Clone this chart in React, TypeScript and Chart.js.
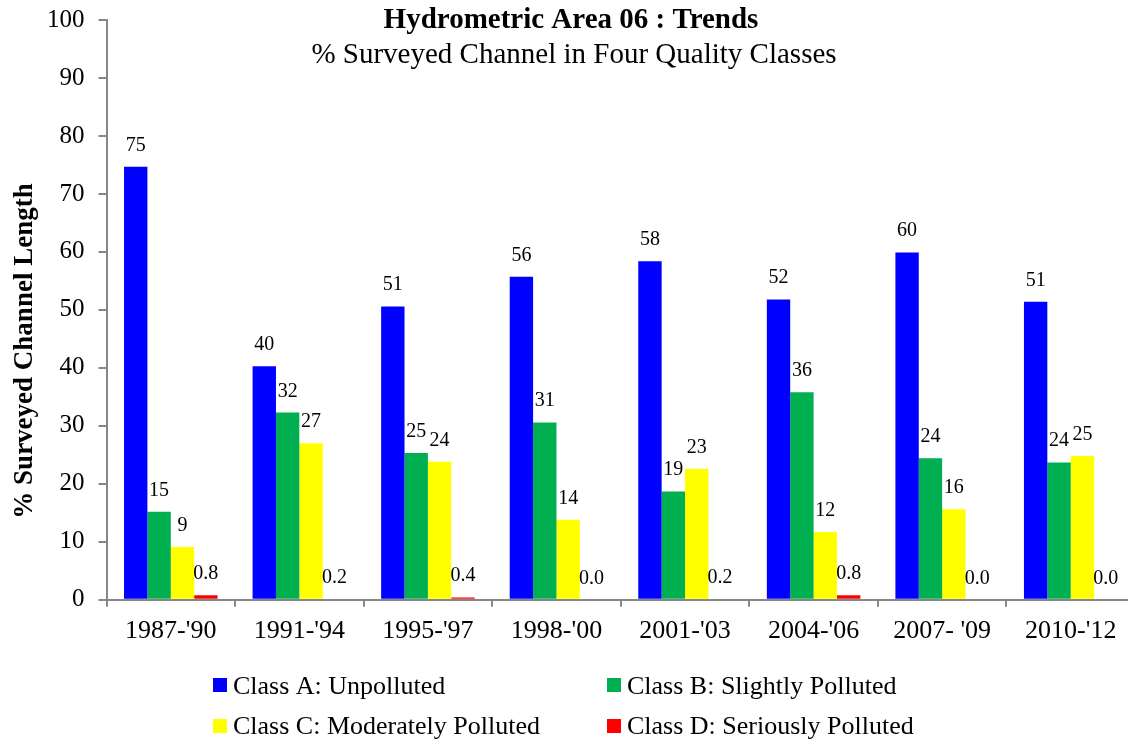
import React, { useEffect, useRef } from "react";
import { Chart, registerables } from "chart.js";

Chart.register(...registerables);

const FONT = "'Liberation Serif', 'Times New Roman', serif";

const periods = ["1987-'90", "1991-'94", "1995-'97", "1998-'00", "2001-'03", "2004-'06", "2007- '09", "2010-'12"];
const classA = [74.7, 40.3, 50.6, 55.7, 58.4, 51.8, 59.9, 51.4];
const classB = [15.2, 32.3, 25.3, 30.6, 18.7, 35.8, 24.4, 23.7];
const classC = [9.1, 27.0, 23.8, 13.8, 22.6, 11.7, 15.6, 24.8];
const classD = [0.8, 0.2, 0.4, 0.0, 0.2, 0.8, 0.0, 0.0];
const seriesNames = [
  "Class A: Unpolluted",
  "Class B: Slightly Polluted",
  "Class C: Moderately Polluted",
  "Class D: Seriously Polluted",
];
const seriesColors = ["#0000FF", "#00B050", "#FFFF00", "#FF0000"];
const titleText = "Hydrometric Area 06 : Trends";
const subtitleText = "% Surveyed Channel in Four Quality Classes";
const yAxisTitle = "% Surveyed Channel Length";
const yMin = 0;
const yMax = 100;
const yStep = 10;

const AXIS_GREY = "#878787";

const barLabels = {
  id: "barLabels",
  afterDatasetsDraw(chart: any) {
    const ctx = chart.ctx;
    ctx.save();
    ctx.font = `20px ${FONT}`;
    ctx.fillStyle = "#000";
    ctx.textAlign = "center";
    ctx.textBaseline = "alphabetic";
    chart.data.datasets.forEach((ds: any, di: number) => {
      const meta = chart.getDatasetMeta(di);
      meta.data.forEach((bar: any, i: number) => {
        const v = ds.data[i] as number;
        const txt = di === 3 ? v.toFixed(1) : String(Math.round(v));
        ctx.fillText(txt, bar.x, bar.y - 16);
      });
    });
    ctx.restore();
  },
};

const decorations = {
  id: "decorations",
  afterDraw(chart: any) {
    const ctx = chart.ctx;
    ctx.save();
    ctx.fillStyle = "#000";
    ctx.textAlign = "center";
    ctx.textBaseline = "alphabetic";
    ctx.font = `bold 29px ${FONT}`;
    ctx.fillText(titleText, 571, 28);
    ctx.font = `29px ${FONT}`;
    ctx.fillText(subtitleText, 574, 63);
    ctx.save();
    ctx.translate(32, 351);
    ctx.rotate(-Math.PI / 2);
    ctx.font = `bold 27px ${FONT}`;
    ctx.fillText(yAxisTitle, 0, 0);
    ctx.restore();
    const colX = [213, 607];
    const rowTop = [678, 719];
    const rowBase = [694, 734];
    ctx.font = `26px ${FONT}`;
    ctx.textAlign = "left";
    chart.data.datasets.forEach((ds: any, i: number) => {
      const c = i % 2;
      const r = Math.floor(i / 2);
      ctx.fillStyle = ds.backgroundColor;
      ctx.fillRect(colX[c], rowTop[r], 14, 14);
      ctx.fillStyle = "#000";
      ctx.fillText(ds.label, colX[c] + 20, rowBase[r]);
    });
    ctx.restore();
  },
};

export default function App() {
  const ref = useRef<HTMLCanvasElement | null>(null);

  useEffect(() => {
    if (!ref.current) return;
    const seriesData = [classA, classB, classC, classD];
    const chart = new Chart(ref.current, {
      type: "bar",
      data: {
        labels: periods,
        datasets: seriesData.map((d, i) => ({
          label: seriesNames[i],
          data: d,
          backgroundColor: seriesColors[i],
          borderWidth: 0,
          categoryPercentage: 0.7275,
          barPercentage: 1,
        })),
      },
      options: {
        animation: false,
        responsive: true,
        maintainAspectRatio: false,
        layout: { padding: { left: 33, right: 5, top: 20, bottom: 89 } },
        plugins: {
          legend: { display: false },
          title: { display: false },
          tooltip: { enabled: false },
        },
        scales: {
          x: {
            grid: {
              offset: true,
              drawOnChartArea: false,
              drawTicks: true,
              tickLength: 7,
              color: AXIS_GREY,
              lineWidth: 2,
            },
            border: { display: true, color: AXIS_GREY, width: 2 },
            ticks: {
              color: "#000",
              font: { family: FONT, size: 26 },
              padding: 9,
              maxRotation: 0,
              autoSkip: false,
            },
          },
          y: {
            min: yMin,
            max: yMax,
            afterFit: (s: any) => {
              s.paddingTop = 0;
              s.paddingBottom = 0;
            },
            grid: {
              drawOnChartArea: false,
              drawTicks: true,
              tickLength: 8,
              color: AXIS_GREY,
              lineWidth: 2,
            },
            border: { display: true, color: AXIS_GREY, width: 2 },
            ticks: {
              stepSize: yStep,
              color: "#000",
              font: { family: FONT, size: 25 },
              padding: 14,
            },
          },
        },
      },
      plugins: [barLabels, decorations],
    });
    return () => chart.destroy();
  }, []);

  return (
    <div style={{ position: "fixed", left: 0, top: 0, width: 1140, height: 745, background: "#fff" }}>
      <canvas ref={ref} />
    </div>
  );
}
